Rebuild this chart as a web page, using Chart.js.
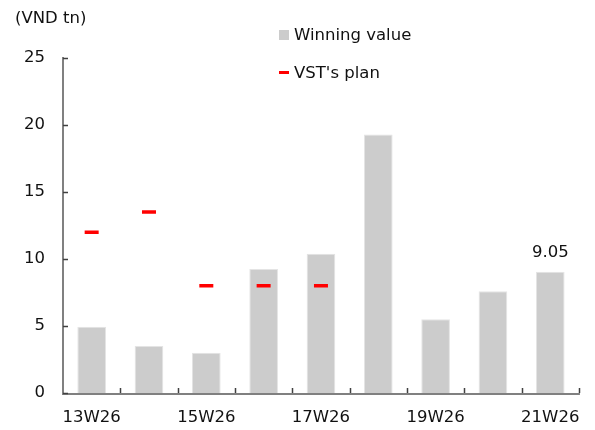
<!DOCTYPE html>
<html>
<head>
<meta charset="utf-8">
<script src="https://cdn.jsdelivr.net/npm/chart.js@4"></script>
<style>
  html, body { margin: 0; padding: 0; background: #fff; }
  #wrap { position: relative; width: 595px; height: 430px; font-family: "DejaVu Sans", Verdana, sans-serif; color: #111; }
  canvas { position: absolute; left: 0; top: 0; }
  .txt { position: absolute; font-size: 16.5px; white-space: nowrap; }
  .sw { position: absolute; }
</style>
</head>
<body>
<div id="wrap">
  <canvas id="c" width="595" height="430"></canvas>
  <div class="txt" style="left:15px; top:8px;" id="unit"></div>
  <div class="sw" style="left:279px; top:30px; width:10px; height:10px; background:#cccccc;"></div>
  <div class="txt" style="left:294px; top:25px;" id="lg1"></div>
  <div class="sw" style="left:279px; top:71px; width:10px; height:3px; background:#ff0000;"></div>
  <div class="txt" style="left:294px; top:63px;" id="lg2"></div>
</div>
<script>
const categories = ["13W26","14W26","15W26","16W26","17W26","18W26","19W26","20W26","21W26"];
const winningValue = [4.95, 3.5, 3.0, 9.25, 10.4, 19.3, 5.5, 7.6, 9.05];
const vstPlan = [12, 13.5, 8, 8, 8, null, null, null, null];
const yTicks = [0, 5, 10, 15, 20, 25];
const seriesNames = ["Winning value", "VST's plan"];
const unitLabel = "(VND tn)";

document.getElementById('unit').textContent = unitLabel;
document.getElementById('lg1').textContent = seriesNames[0];
document.getElementById('lg2').textContent = seriesNames[1];

const FONT = '"DejaVu Sans", Verdana, sans-serif';

const inwardTicks = {
  id: 'inwardTicks',
  afterDatasetsDraw(chart) {
    const ctx = chart.ctx, x = chart.scales.x, y = chart.scales.y, a = chart.chartArea;
    ctx.save();
    ctx.strokeStyle = '#808080';
    ctx.lineWidth = 2;
    ctx.beginPath();
    ctx.moveTo(a.left, y.getPixelForValue(25) - 1);
    ctx.lineTo(a.left, a.bottom + 1);
    ctx.lineTo(a.right + 1, a.bottom + 1);
    ctx.stroke();
    ctx.lineWidth = 1.5;
    ctx.strokeStyle = '#404040';
    ctx.beginPath();
    yTicks.forEach(v => {
      const py = Math.round(y.getPixelForValue(v)) + 0.5;
      ctx.moveTo(a.left, py); ctx.lineTo(a.left + 5, py);
    });
    const n = categories.length;
    const step = (a.right - a.left) / n;
    for (let i = 1; i <= n; i++) {
      const px = Math.round(x.getPixelForValue(i - 1) + step / 2) + 0.5;
      ctx.moveTo(px, a.bottom); ctx.lineTo(px, a.bottom - 5);
    }
    ctx.stroke();
    const meta = chart.getDatasetMeta(0);
    const last = meta.data[meta.data.length - 1];
    ctx.fillStyle = '#111';
    ctx.font = '16.5px ' + FONT;
    ctx.textAlign = 'center';
    ctx.textBaseline = 'bottom';
    ctx.fillText(winningValue[winningValue.length - 1].toFixed(2), last.x, last.y - 11);
    ctx.restore();
  }
};

new Chart(document.getElementById('c'), {
  data: {
    labels: categories,
    datasets: [
      {
        type: 'bar',
        label: seriesNames[0],
        data: winningValue,
        backgroundColor: '#cccccc',
        borderColor: '#e4e4e4',
        borderWidth: 1,
        categoryPercentage: 1.0,
        barPercentage: 0.5,
        order: 2
      },
      {
        type: 'line',
        label: seriesNames[1],
        data: vstPlan,
        showLine: false,
        pointStyle: 'line',
        pointRadius: 7,
        pointHoverRadius: 7,
        borderColor: '#ff0000',
        backgroundColor: '#ff0000',
        pointBorderWidth: 3.5,
        order: 1
      }
    ]
  },
  options: {
    responsive: false,
    animation: false,
    events: [],
    layout: { padding: { top: 58, right: 8, left: 0, bottom: 0 } },
    plugins: { legend: { display: false }, tooltip: { enabled: false } },
    scales: {
      x: {
        offset: true,
        grid: { display: false, drawTicks: false },
        border: { display: false },
        ticks: {
          autoSkip: false,
          maxRotation: 0,
          padding: 15,
          color: '#111',
          font: { family: FONT, size: 16.5 },
          callback: function (v, i) { return i % 2 === 0 ? categories[i] : ''; }
        },
        afterFit(s) { s.height = 37; }
      },
      y: {
        min: 0, max: 25,
        afterBuildTicks(s) { s.ticks = yTicks.map(v => ({ value: v })); },
        grid: { display: false, drawTicks: false },
        border: { display: false },
        ticks: {
          padding: 18,
          color: '#111',
          font: { family: FONT, size: 16.5 }
        },
        afterFit(s) { s.width = 63; }
      }
    }
  },
  plugins: [inwardTicks]
});
</script>
</body>
</html>
